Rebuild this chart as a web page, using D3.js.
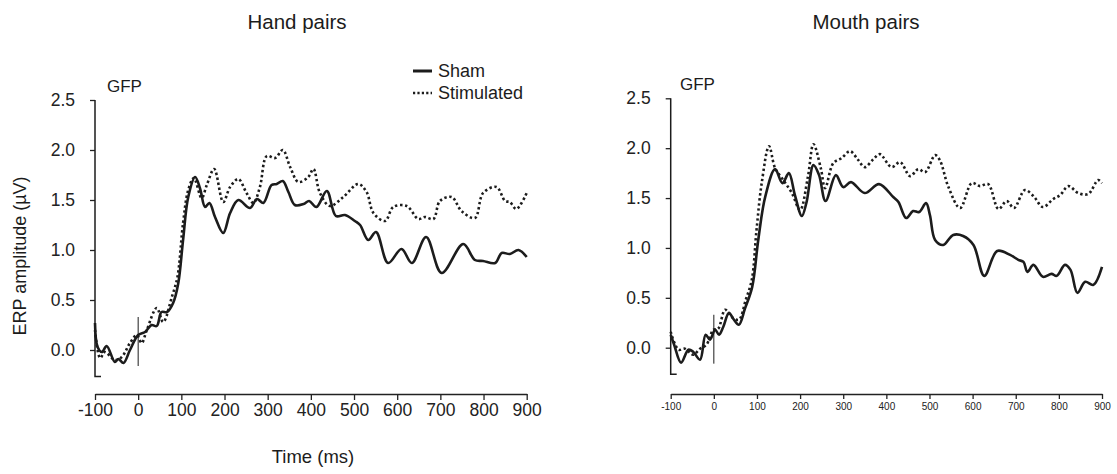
<!DOCTYPE html>
<html>
<head>
<meta charset="utf-8">
<script src="https://cdn.jsdelivr.net/npm/d3@7"></script>
<style>
    html, body { margin: 0; padding: 0; background: #fff; }
    svg { display: block; font-family: "Liberation Sans", Arial, Helvetica, sans-serif; }
    .axis path, .axis line { stroke: #222; }
    .axis text { fill: #222; }
</style>
</head>
<body>
<svg id="chart" width="1117" height="474"></svg>
<script>
// GFP 곡선 — [시간(ms), 진폭(µV)]
var handSham = [
    [-100,0.27],[-94,0.03],[-84,-0.02],[-73,0.04],[-54,-0.12],[-46,-0.09],[-34,-0.13],[-19,0],
    [0,0.15],[16,0.18],[31,0.25],[43,0.24],[54,0.38],[67,0.38],[81,0.47],[93,0.67],[104,1.1],
    [116,1.53],[132,1.73],[143,1.62],[155,1.43],[165,1.47],[178,1.33],[197,1.17],[213,1.37],
    [232,1.5],[259,1.42],[275,1.51],[290,1.47],[309,1.65],[321,1.66],[335,1.69],[348,1.58],
    [363,1.45],[383,1.46],[396,1.49],[413,1.43],[437,1.59],[458,1.34],[479,1.35],[502,1.29],
    [514,1.25],[533,1.10],[551,1.18],[579,0.87],[610,1.01],[634,0.87],[667,1.13],[703,0.77],
    [753,1.06],[780,0.90],[799,0.89],[827,0.87],[842,0.97],[861,0.96],[881,1.0],[900,0.93]
];
var handStim = [
    [-100,0.2],[-88,-0.08],[-77,-0.02],[-54,-0.1],[-38,-0.07],[-19,0.07],[-3,0.15],[8,0.07],
    [20,0.2],[43,0.42],[58,0.28],[78,0.53],[91,0.73],[104,1.27],[116,1.6],[129,1.72],[147,1.52],
    [159,1.65],[176,1.81],[197,1.48],[213,1.63],[232,1.71],[251,1.57],[267,1.47],[282,1.63],
    [298,1.94],[317,1.92],[335,2.0],[352,1.83],[371,1.68],[394,1.73],[406,1.81],[421,1.57],
    [444,1.44],[475,1.53],[510,1.66],[529,1.58],[545,1.37],[572,1.29],[591,1.43],[622,1.44],
    [649,1.31],[664,1.33],[684,1.31],[699,1.49],[726,1.53],[749,1.39],[780,1.32],[799,1.57],
    [830,1.63],[850,1.49],[861,1.48],[876,1.41],[900,1.57]
];
var mouthSham = [
    [-100,0.13],[-92,0.03],[-76,-0.15],[-59,-0.02],[-48,-0.04],[-32,-0.12],[-19,0.13],[-9,0.08],
    [3,0.18],[12,0.13],[22,0.21],[35,0.35],[45,0.29],[58,0.23],[72,0.39],[89,0.61],[103,1.08],
    [119,1.51],[142,1.79],[159,1.65],[174,1.75],[188,1.53],[204,1.32],[215,1.46],[231,1.83],
    [244,1.73],[259,1.47],[283,1.73],[300,1.61],[318,1.66],[350,1.55],[383,1.64],[416,1.51],
    [428,1.46],[446,1.30],[462,1.37],[476,1.36],[492,1.45],[501,1.33],[513,1.08],[532,1.03],
    [555,1.13],[578,1.12],[602,1.03],[627,0.72],[657,0.97],[687,0.93],[706,0.88],[718,0.86],
    [727,0.76],[741,0.83],[763,0.71],[783,0.74],[795,0.72],[814,0.83],[827,0.78],[843,0.55],
    [861,0.66],[880,0.63],[900,0.81]
];
var mouthStim = [
    [-100,0.16],[-82,-0.02],[-67,-0.01],[-48,-0.07],[-32,-0.01],[-17,0.03],[-1,0.18],[10,0.19],
    [26,0.38],[41,0.31],[58,0.28],[74,0.48],[88,0.68],[99,1.18],[111,1.65],[128,2.02],[142,1.80],
    [161,1.68],[181,1.55],[200,1.38],[218,1.71],[231,2.04],[248,1.80],[258,1.60],[277,1.85],
    [296,1.90],[316,1.97],[335,1.88],[350,1.81],[370,1.89],[385,1.94],[412,1.81],[432,1.86],
    [455,1.72],[474,1.79],[490,1.76],[513,1.93],[524,1.88],[544,1.61],[571,1.40],[598,1.65],
    [617,1.62],[636,1.64],[660,1.39],[679,1.47],[696,1.40],[721,1.58],[741,1.52],[763,1.41],
    [787,1.49],[803,1.53],[822,1.62],[845,1.55],[868,1.54],[891,1.68],[900,1.65]
];

var xTicks = [-100, 0, 100, 200, 300, 400, 500, 600, 700, 800, 900];
var yTicks = [0, 0.5, 1.0, 1.5, 2.0, 2.5];
var panelTitles = ['Hand pairs', 'Mouth pairs'];
var legendLabels = ['Sham', 'Stimulated'];

(function () {
    var INK = '#1c1c1c';
    var svg = d3.select('#chart');

    // 패널 배치 (픽셀)
    var panels = [
        { title: panelTitles[0], sham: handSham, stim: handStim,
          x0: 95, x1: 526.7, yZero: 350, yTop: 100, xAxisY: 394,
          xFont: 17.5, xTick: 6, yFont: 17.5, titleX: 297, gfpX: 107, gfpY: 92 },
        { title: panelTitles[1], sham: mouthSham, stim: mouthStim,
          x0: 670.7, x1: 1102, yZero: 347.7, yTop: 98.3, xAxisY: 394,
          xFont: 10, xTick: 5, yFont: 17.5, titleX: 866, gfpX: 680, gfpY: 90 }
    ];

    function drawPanel(p) {
        var x = d3.scaleLinear().domain([-100, 900]).range([p.x0, p.x1]);
        var y = d3.scaleLinear().domain([0, 2.5]).range([p.yZero, p.yTop]);
        var g = svg.append('g');

        // y축
        var yAxis = g.append('g').attr('class', 'axis')
            .attr('transform', 'translate(' + p.x0 + ',0)')
            .call(d3.axisLeft(y).tickValues(yTicks).tickFormat(d3.format('.1f'))
                .tickSize(5).tickPadding(15));
        yAxis.select('.domain').remove();
        yAxis.selectAll('line').attr('stroke-width', 1.3);
        yAxis.selectAll('text').attr('font-size', p.yFont).attr('font-family', null);
        g.append('path')
            .attr('d', 'M' + p.x0 + ',' + y(2.5) + 'V' + y(-0.265) + 'h6')
            .attr('fill', 'none').attr('stroke', INK).attr('stroke-width', 1.5);

        // x축 (별도 아래쪽) — 하이픈 마이너스
        var xAxis = g.append('g').attr('class', 'axis')
            .attr('transform', 'translate(0,' + p.xAxisY + ')')
            .call(d3.axisBottom(x).tickValues(xTicks).tickFormat(function (d) { return String(d); })
                .tickSize(p.xTick).tickSizeOuter(0).tickPadding(4));
        xAxis.select('.domain').attr('stroke-width', 1.5);
        xAxis.selectAll('line').attr('stroke-width', 1.3);
        xAxis.selectAll('text').attr('font-size', p.xFont).attr('font-family', null);

        // 자극 시점 표시
        g.append('line')
            .attr('x1', x(0)).attr('x2', x(0))
            .attr('y1', y(0.33)).attr('y2', y(-0.16))
            .attr('stroke', INK).attr('stroke-width', 1);

        var line = d3.line()
            .x(function (d) { return x(d[0]); })
            .y(function (d) { return y(d[1]); })
            .curve(d3.curveCatmullRom.alpha(0.5));

        g.append('path').datum(p.stim)
            .attr('d', line).attr('fill', 'none')
            .attr('stroke', INK).attr('stroke-width', 2.6)
            .attr('stroke-dasharray', '2.4,2.6');
        g.append('path').datum(p.sham)
            .attr('d', line).attr('fill', 'none')
            .attr('stroke', INK).attr('stroke-width', 2.6)
            .attr('stroke-linejoin', 'round');

        g.append('text').attr('x', p.gfpX).attr('y', p.gfpY)
            .attr('font-size', 17).attr('fill', INK).text('GFP');

        g.append('text').attr('x', p.titleX).attr('y', 29)
            .attr('text-anchor', 'middle').attr('font-size', 20.5)
            .attr('fill', INK).text(p.title);
    }

    panels.forEach(drawPanel);

    // y축 제목
    svg.append('text')
        .attr('transform', 'translate(26,256) rotate(-90)')
        .attr('text-anchor', 'middle').attr('font-size', 18)
        .attr('fill', INK).text('ERP amplitude (\u00B5V)');

    // x축 제목
    svg.append('text')
        .attr('x', 313).attr('y', 463)
        .attr('text-anchor', 'middle').attr('font-size', 18.5)
        .attr('fill', INK).text('Time (ms)');

    // 범례
    var legend = svg.append('g');
    legendLabels.forEach(function (lab, i) {
        var ly = 71 + i * 22;
        legend.append('line')
            .attr('x1', 413).attr('x2', 432).attr('y1', ly).attr('y2', ly)
            .attr('stroke', INK).attr('stroke-width', i ? 2.4 : 3)
            .attr('stroke-dasharray', i ? '2.2,2.2' : null);
        legend.append('text')
            .attr('x', 438).attr('y', ly + 6)
            .attr('font-size', 18).attr('fill', INK).text(lab);
    });
})();
</script>
</body>
</html>
